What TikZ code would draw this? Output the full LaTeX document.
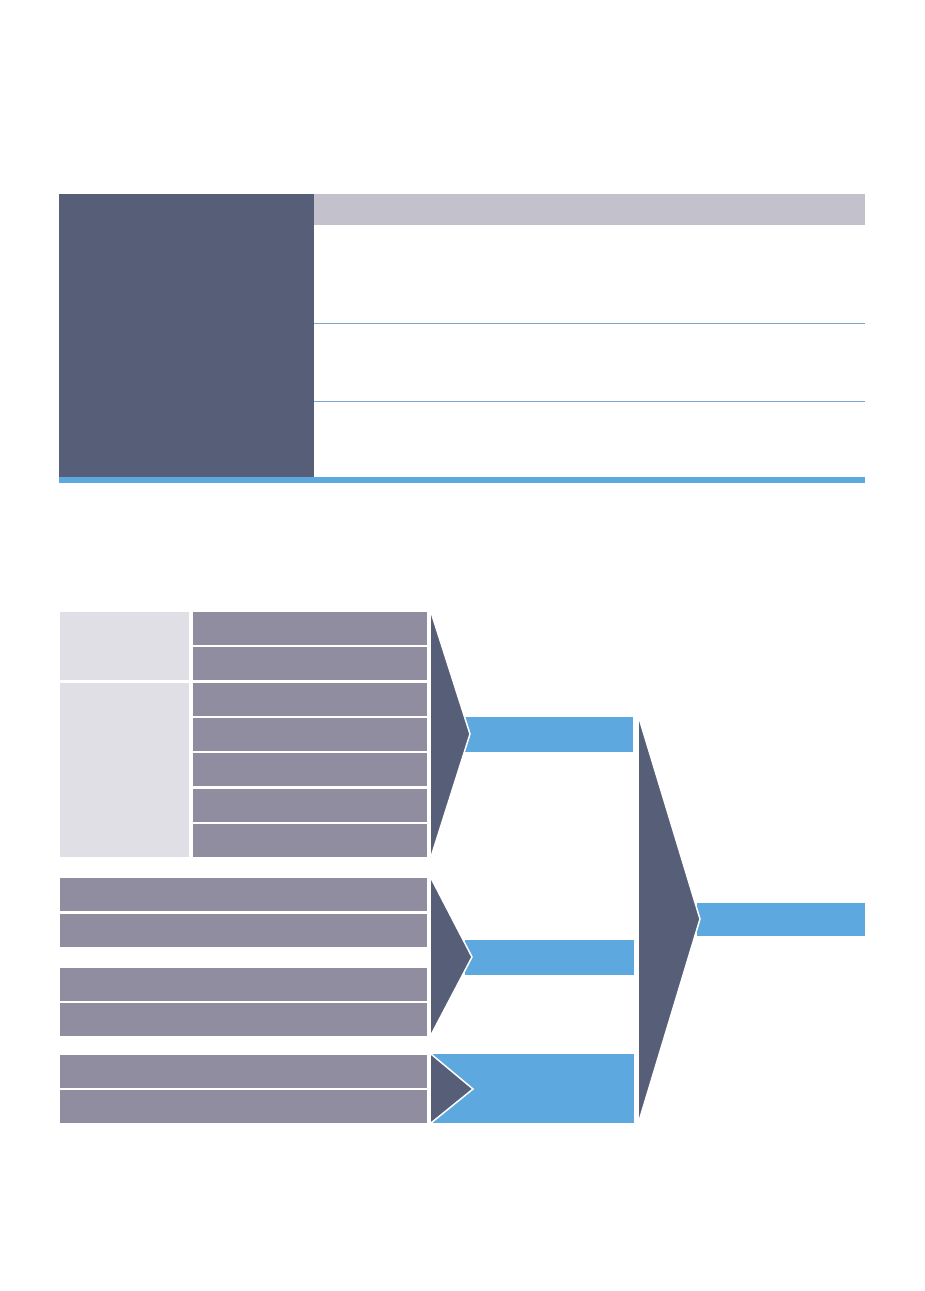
\documentclass[tikz,border=0pt]{standalone}
\usetikzlibrary{positioning}
\definecolor{darkslate}{HTML}{575F78}
\definecolor{rowgray}{HTML}{908DA0}
\definecolor{lightcell}{HTML}{E0DFE5}
\definecolor{barblue}{HTML}{5EA8E0}
\definecolor{headgray}{HTML}{C3C1CB}
\definecolor{ruleblue}{HTML}{7FA6CC}
\tikzset{
  rowbox/.style={fill=rowgray, draw=none},
  lightbox/.style={fill=lightcell, draw=none},
  bluebox/.style={fill=barblue, draw=none},
  chevfill/.style={fill=darkslate, draw=none},
  chevedge/.style={draw=white, line width=1.5pt, line join=miter, line cap=butt},
  tablerule/.style={draw=ruleblue, line width=0.9pt}
}
\begin{document}
\begin{tikzpicture}[x=1pt,y=-1pt]
\useasboundingbox (0,0) rectangle (925,1291);
\fill[white] (0,0) rectangle (925,1291);
% ---------- table ----------
\fill[darkslate] (59,194) rectangle (314,477);
\fill[headgray] (314,194) rectangle (865,225);
\fill[barblue] (59,477) rectangle (865,483);
\draw[tablerule] (314,323) -- (865,323);
\draw[tablerule] (314,401) -- (865,401);
% ---------- group 1 ----------
\fill[lightbox] (60,612) rectangle (189,680);
\fill[lightbox] (60,683) rectangle (189,857);
\foreach \a/\b in {612/645,647/680,683/716,718/751,753/786,789/822,824/857}
  \fill[rowbox] (193,\a) rectangle (427,\b);
\fill[bluebox] (465,717) rectangle (633,752);
\fill[chevfill] (431,612) -- (470,734) -- (431,857) -- cycle;
\draw[chevedge] (431,612) -- (470,734) -- (431,857);
% ---------- group 2 ----------
\foreach \a/\b in {878/911,914/947,968/1001,1003/1036}
  \fill[rowbox] (60,\a) rectangle (427,\b);
\fill[bluebox] (465,940) rectangle (634,975);
\fill[chevfill] (431,878) -- (472,957) -- (431,1035) -- cycle;
\draw[chevedge] (431,878) -- (472,957) -- (431,1035);
% ---------- group 3 ----------
\foreach \a/\b in {1055/1088,1090/1123}
  \fill[rowbox] (60,\a) rectangle (427,\b);
\fill[bluebox] (433,1054) rectangle (634,1123);
\fill[chevfill] (431,1054) -- (473,1089) -- (431,1123) -- cycle;
\draw[chevedge] (431,1054) -- (473,1089) -- (431,1123);
% ---------- final ----------
\fill[bluebox] (697,903) rectangle (865,936);
\fill[chevfill] (639,718) -- (700,919) -- (639,1121) -- cycle;
\draw[chevedge] (639,718) -- (700,919) -- (639,1121);
\end{tikzpicture}
\end{document}
